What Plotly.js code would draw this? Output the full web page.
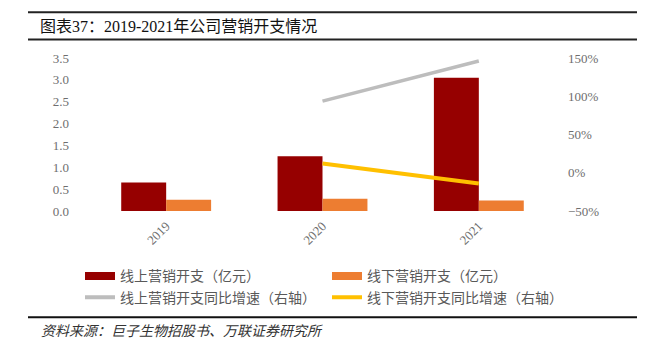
<!DOCTYPE html>
<html>
<head>
<meta charset="utf-8">
<script src="https://cdn.plot.ly/plotly-3.0.1.min.js"></script>
<style>html,body{margin:0;padding:0;background:#fff;}#chart{width:655px;height:355px;}</style>
</head>
<body>
<div id="chart"></div>
<script>
var years = ['2019', '2020', '2021'];
var onlineSpend = [0.65, 1.25, 3.05];
var offlineSpend = [0.26, 0.28, 0.24];
var onlineGrowth = [null, 93.6, 146];
var offlineGrowth = [null, 12.2, -14];
var leftTicks = [0, 0.5, 1, 1.5, 2, 2.5, 3, 3.5];
var rightTicks = [-50, 0, 50, 100, 150];
var names = ['线上营销开支（亿元）', '线下营销开支（亿元）', '线上营销开支同比增速（右轴）', '线下营销开支同比增速（右轴）'];

var tickFont = {family: 'Liberation Serif, Noto Sans CJK SC', size: 13, color: '#6e6e6e'};
var cjk = 'Noto Sans CJK SC, sans-serif';

var traces = [
  {type: 'bar', x: years, y: onlineSpend, name: names[0], marker: {color: '#960000'}, showlegend: false, hoverinfo: 'skip'},
  {type: 'bar', x: years, y: offlineSpend, name: names[1], marker: {color: '#ED7D31'}, showlegend: false, hoverinfo: 'skip'},
  {type: 'scatter', mode: 'lines', x: years, y: onlineGrowth, yaxis: 'y2', name: names[2], line: {color: '#BDBDBD', width: 3.5}, showlegend: false},
  {type: 'scatter', mode: 'lines', x: years, y: offlineGrowth, yaxis: 'y2', name: names[3], line: {color: '#FFC000', width: 4}, showlegend: false},
  // legend entries (empty proxies, drawn as wide swatches like the reference)
  {type: 'scatter', mode: 'lines', x: [null], y: [null], name: names[0], line: {color: '#960000', width: 8}},
  {type: 'scatter', mode: 'lines', x: [null], y: [null], name: names[1], line: {color: '#ED7D31', width: 8}},
  {type: 'scatter', mode: 'lines', x: [null], y: [null], name: names[2], line: {color: '#BDBDBD', width: 4}},
  {type: 'scatter', mode: 'lines', x: [null], y: [null], name: names[3], line: {color: '#FFC000', width: 4}}
];

var plotL = 88, plotR = 557, plotT = 58, plotB = 211.5;
var pw = plotR - plotL, ph = plotB - plotT;
function px(x) { return (x - plotL) / pw; }
function py(y) { return (plotB - y) / ph; }

var layout = {
  width: 655, height: 355,
  margin: {l: plotL, r: 655 - plotR, t: plotT, b: 355 - plotB, pad: 0},
  paper_bgcolor: '#fff', plot_bgcolor: '#fff',
  barmode: 'group', bargap: 0.425, bargroupgap: 0,
  showlegend: true,
  xaxis: {type: 'category', tickangle: -45, tickfont: tickFont, showgrid: false, zeroline: false, showline: false, ticks: '', ticklabelstandoff: 4},
  yaxis: {range: [0, 3.5], tickvals: leftTicks, ticktext: leftTicks.map(function (v) { return v.toFixed(1); }),
          tickfont: tickFont, showgrid: false, zeroline: false, showline: false, ticks: '', ticklabelstandoff: 18},
  yaxis2: {overlaying: 'y', side: 'right', range: [-50, 150], tickvals: rightTicks,
           ticktext: rightTicks.map(function (v) { return (v < 0 ? '\u2212' + (-v) : v) + '%'; }),
           tickfont: tickFont, showgrid: false, zeroline: false, showline: false, ticks: '', ticklabelstandoff: 10},
  legend: {orientation: 'h', x: px(80), xanchor: 'left', y: py(261), yanchor: 'top',
           entrywidth: 202, entrywidthmode: 'pixels', traceorder: 'normal',
           font: {family: cjk, size: 14, color: '#595959'}, itemwidth: 30, tracegroupgap: 0},
  shapes: [
    {type: 'line', xref: 'paper', yref: 'paper', x0: px(28), x1: px(637), y0: py(12), y1: py(12), line: {color: '#222', width: 2}},
    {type: 'line', xref: 'paper', yref: 'paper', x0: px(28), x1: px(637), y0: py(39.5), y1: py(39.5), line: {color: '#222', width: 2}},
    {type: 'line', xref: 'paper', yref: 'paper', x0: px(28), x1: px(637), y0: py(318), y1: py(318), line: {color: '#111', width: 2}}
  ],
  annotations: [
    {text: '图表37：2019-2021年公司营销开支情况', xref: 'paper', yref: 'paper', x: px(38), y: py(26), xanchor: 'left', yanchor: 'middle',
     showarrow: false, font: {family: 'Liberation Serif, Noto Sans CJK SC', size: 16, color: '#111'}},
    {text: '<i>资料来源：巨子生物招股书、万联证券研究所</i>', xref: 'paper', yref: 'paper', x: px(39), y: py(331), xanchor: 'left', yanchor: 'middle',
     showarrow: false, font: {family: cjk, size: 14, color: '#333'}}
  ]
};

Plotly.newPlot('chart', traces, layout, {displayModeBar: false, staticPlot: true});
</script>
</body>
</html>
